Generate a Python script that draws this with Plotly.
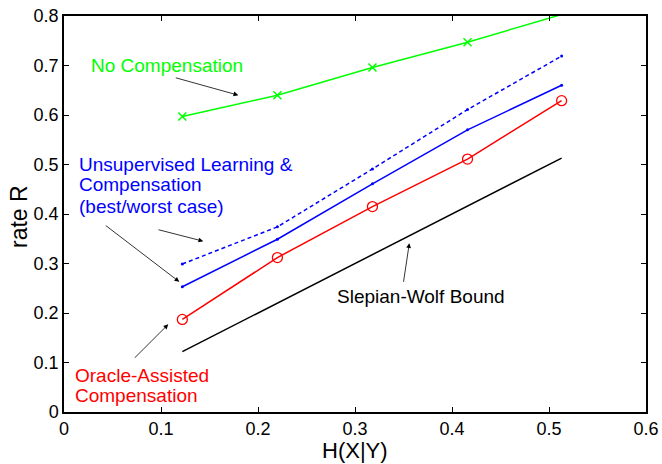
import plotly.graph_objects as go

# data
h_xy = [0.122, 0.220, 0.318, 0.416, 0.513]
no_comp = [0.597, 0.640, 0.696, 0.747, 0.803]
unsup_worst = [0.299, 0.374, 0.491, 0.611, 0.719]
unsup_best = [0.253, 0.349, 0.461, 0.570, 0.660]
oracle = [0.187, 0.312, 0.415, 0.511, 0.629]
sw_bound = [0.122, 0.220, 0.318, 0.416, 0.513]

x_ticks = [0, 0.1, 0.2, 0.3, 0.4, 0.5, 0.6]
y_ticks = [0, 0.1, 0.2, 0.3, 0.4, 0.5, 0.6, 0.7, 0.8]

FONT = "Liberation Sans, Arial, sans-serif"
fig = go.Figure()

fig.add_trace(go.Scatter(x=h_xy, y=sw_bound, mode="lines",
                         line=dict(color="black", width=1.5)))
fig.add_trace(go.Scatter(x=h_xy, y=oracle, mode="lines+markers",
                         line=dict(color="#ff0000", width=1.5),
                         marker=dict(symbol="circle-open", size=10, color="#ff0000", line=dict(width=1.3))))
fig.add_trace(go.Scatter(x=h_xy, y=unsup_best, mode="lines+markers",
                         line=dict(color="#0000ff", width=1.5),
                         marker=dict(symbol="circle", size=3, color="#0000ff")))
fig.add_trace(go.Scatter(x=h_xy, y=unsup_worst, mode="lines+markers",
                         line=dict(color="#0000ff", width=1.5, dash="4px,3px"),
                         marker=dict(symbol="circle", size=3, color="#0000ff")))
fig.add_trace(go.Scatter(x=h_xy, y=no_comp, mode="lines",
                         line=dict(color="#00ff00", width=1.5)))
vis = [(x, y) for x, y in zip(h_xy, no_comp) if y <= 0.8]
fig.add_trace(go.Scatter(x=[v[0] for v in vis], y=[v[1] for v in vis], mode="markers",
                         marker=dict(symbol="x-thin-open", size=8, color="#00ff00",
                                     line=dict(width=1.5, color="#00ff00"))))

def arrow(tx, ty, hx, hy):
    fig.add_annotation(x=hx, y=hy, ax=tx, ay=ty, xref="x", yref="y", axref="x", ayref="y",
                       showarrow=True, arrowhead=2, arrowsize=1.2, arrowwidth=0.8,
                       arrowcolor="black", text="")

arrow(0.1137, 0.676, 0.1797, 0.640)
arrow(0.0415, 0.379, 0.1189, 0.263)
arrow(0.0959, 0.369, 0.1436, 0.345)
arrow(0.0714, 0.1065, 0.1075, 0.1772)
arrow(0.3498, 0.260, 0.356, 0.341)

def label(x, y, text, color, xanchor="center"):
    fig.add_annotation(x=x, y=y, xref="x", yref="y", text=text, showarrow=False,
                       xanchor=xanchor, yanchor="middle", align="left",
                       font=dict(family=FONT, size=19, color=color))

label(0.1057, 0.701, "No Compensation", "#00ff00")
label(0.0131, 0.501, "Unsupervised Learning &amp;", "#0000ff", "left")
label(0.0131, 0.4586, "Compensation", "#0000ff", "left")
label(0.0131, 0.4147, "(best/worst case)", "#0000ff", "left")
label(0.009, 0.0747, "Oracle-Assisted", "#ff0000", "left")
label(0.009, 0.0329, "Compensation", "#ff0000", "left")
label(0.3678, 0.233, "Slepian-Wolf Bound", "black")

# axis titles (positioned in pixels relative to the plot area)
plot_w = 662 - 64 - 16
plot_h = 464 - 16 - 52
fig.add_annotation(x=(355 - 64) / plot_w, y=(412 - 451) / plot_h, xref="paper", yref="paper",
                   text="H(X|Y)", showarrow=False, xanchor="center", yanchor="middle",
                   font=dict(family=FONT, size=22, color="black"))
fig.add_annotation(x=(19 - 64) / plot_w, y=(412 - 217) / plot_h, xref="paper", yref="paper",
                   text="rate R", textangle=-90, showarrow=False, xanchor="center", yanchor="middle",
                   font=dict(family=FONT, size=23, color="black"))

axis_common = dict(showgrid=False, zeroline=False, showline=True, linecolor="black", linewidth=1.5,
                   mirror="ticks", ticks="inside", ticklen=5, tickwidth=1, tickcolor="black",
                   automargin=False,
                   tickfont=dict(family=FONT, size=18, color="black"))
fig.update_xaxes(range=[0, 0.6], tickvals=x_ticks, ticktext=[f"{v:g}" for v in x_ticks], **axis_common)
fig.update_yaxes(range=[0, 0.8], tickvals=y_ticks, ticktext=[f"{v:g}" for v in y_ticks], **axis_common)
fig.update_layout(width=662, height=464, showlegend=False, plot_bgcolor="white", paper_bgcolor="white",
                  margin=dict(l=64, r=16, t=16, b=52))

fig.write_html("out.html", config={"displayModeBar": False},
               post_script="document.body.style.margin='0';document.body.style.overflow='hidden';")
